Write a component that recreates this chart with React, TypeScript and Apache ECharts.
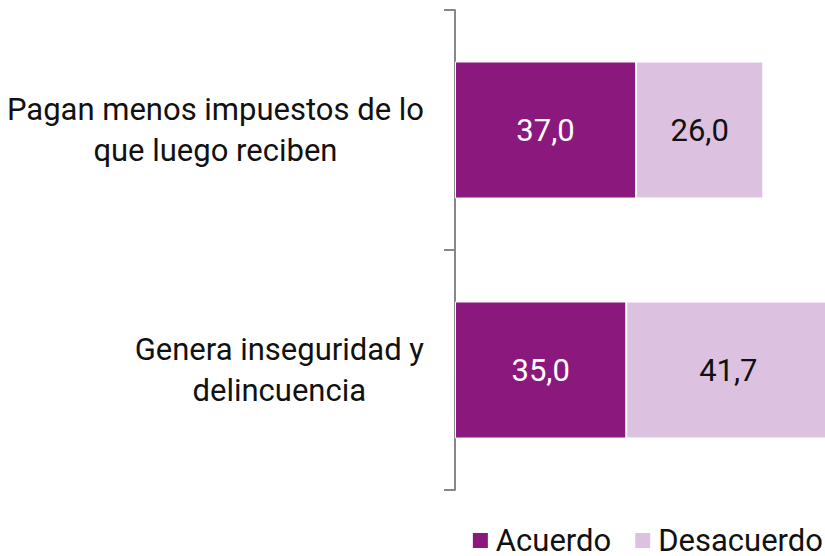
import React, { useEffect, useRef } from "react";
import * as echarts from "echarts";

const categories = ["Pagan menos impuestos de lo\nque luego reciben", "Genera inseguridad y\ndelincuencia"];
const acuerdo = [37.0, 35.0];
const desacuerdo = [26.0, 41.7];
const seriesNames = ["Acuerdo", "Desacuerdo"];

const FONT = "Roboto";
const FS = 31;

export default function App() {
  const ref = useRef<HTMLDivElement>(null);
  useEffect(() => {
    const chart = echarts.init(ref.current!, null, { renderer: "svg" });
    const fmt = (p: any) => p.value.toFixed(1).replace(".", ",");
    chart.setOption({
      animation: false,
      grid: { left: 455, top: 10, right: 0, height: 480, containLabel: false },
      xAxis: { type: "value", min: 0, max: 75.6, show: false },
      yAxis: {
        type: "category",
        data: categories,
        inverse: true,
        axisLine: { show: true, lineStyle: { color: "#888888", width: 2 } },
        axisTick: { show: true, length: 11, lineStyle: { color: "#888888", width: 2 } },
        axisLabel: {
          margin: 31,
          align: "right",
          formatter: (v: string) => v.split("\n").map((l) => `{a|${l}}`).join("\n"),
          rich: {
            a: { fontFamily: FONT, fontSize: FS, color: "#111", lineHeight: 41, align: "center" },
          },
        },
        splitLine: { show: false },
      },
      legend: {
        right: 2,
        top: 525,
        padding: 0,
        itemWidth: 17,
        itemHeight: 17,
        itemGap: 22,
        icon: "rect",
        textStyle: { fontFamily: FONT, fontSize: FS, color: "#111", lineHeight: 25, padding: [0, 0, 0, 2] },
        data: seriesNames,
      },
      series: [
        {
          name: seriesNames[0],
          type: "bar",
          stack: "s",
          data: acuerdo,
          barWidth: 137,
          clip: false,
          itemStyle: { color: "#8B187D", borderColor: "#ffffff", borderWidth: 1 },
          label: { show: true, position: "inside", formatter: fmt, color: "#ffffff", fontFamily: FONT, fontSize: FS },
        },
        {
          name: seriesNames[1],
          type: "bar",
          stack: "s",
          data: desacuerdo,
          barWidth: 137,
          clip: false,
          itemStyle: { color: "#DCC2E0", borderColor: "#ffffff", borderWidth: 1 },
          label: { show: true, position: "inside", formatter: fmt, color: "#111", fontFamily: FONT, fontSize: FS },
        },
      ],
    });
    return () => chart.dispose();
  }, []);
  return (
    <div
      ref={ref}
      style={{ position: "absolute", left: 0, top: 0, width: 825, height: 556, overflow: "hidden", background: "#fff" }}
    />
  );
}
